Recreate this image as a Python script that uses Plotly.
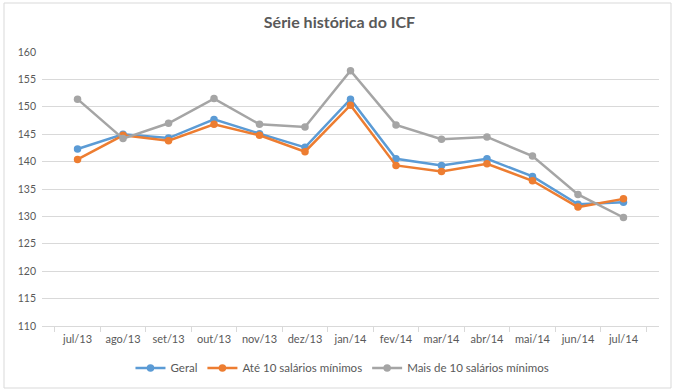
import plotly.graph_objects as go

categories = ["jul/13", "ago/13", "set/13", "out/13", "nov/13", "dez/13", "jan/14",
              "fev/14", "mar/14", "abr/14", "mai/14", "jun/14", "jul/14"]
geral = [142.3, 145.0, 144.3, 147.7, 145.1, 142.6, 151.4, 140.5, 139.3, 140.5, 137.3, 132.2, 132.6]
ate10 = [140.4, 144.8, 143.8, 146.8, 144.8, 141.8, 150.3, 139.3, 138.2, 139.6, 136.5, 131.7, 133.2]
mais10 = [151.4, 144.2, 147.0, 151.5, 146.8, 146.3, 156.6, 146.7, 144.1, 144.5, 141.0, 134.0, 129.8]
series_names = ["Geral", "Até 10 salários mínimos", "Mais de 10 salários mínimos"]
colors = ["#5B9BD5", "#ED7D31", "#A5A5A5"]

FONT = "Lato, Open Sans, sans-serif"

fig = go.Figure()
for name, vals, col in zip(series_names, [geral, ate10, mais10], colors):
    fig.add_trace(go.Scatter(
        x=categories, y=vals, name=name, mode="lines+markers",
        line=dict(color=col, width=2.5),
        marker=dict(color=col, size=7.5),
    ))

fig.update_layout(
    width=679, height=391,
    margin=dict(l=42, r=20, t=52, b=65, autoexpand=False),
    paper_bgcolor="white", plot_bgcolor="white",
    font=dict(family=FONT, size=11, color="#595959"),
    title=dict(text="<b>Série histórica do ICF</b>", x=0.5, xanchor="center",
               y=1 - 22 / 391, yanchor="middle",
               font=dict(family=FONT, size=16, color="#595959")),
    showlegend=True,
    legend=dict(orientation="h", x=0.487, xanchor="center", y=-0.1, yanchor="top",
                font=dict(family=FONT, size=11.5, color="#595959"),
                itemwidth=30, traceorder="normal"),
    xaxis=dict(type="category", showgrid=False, showline=True, linecolor="#D9D9D9",
               linewidth=1, ticks="outside", tickson="boundaries", ticklen=5,
               tickcolor="#D9D9D9", tickfont=dict(size=11, color="#595959"),
               ticklabelstandoff=3, automargin=False, fixedrange=True),
    yaxis=dict(range=[110, 160], dtick=5, showgrid=True, gridcolor="#D9D9D9",
               gridwidth=1, zeroline=False, showline=False,
               tickfont=dict(size=10.5, color="#595959"), ticklabelstandoff=5,
               automargin=False, fixedrange=True),
    shapes=[dict(type="rect", xref="paper", yref="paper",
                 x0=(4 - 42) / 617, x1=(671 - 42) / 617,
                 y0=(326 - 388) / 274, y1=(326 - 3) / 274,
                 line=dict(color="#D9D9D9", width=1), layer="below")],
)

fig.write_html("out.html", config={"displayModeBar": False},
               post_script="document.body.style.margin='0';document.body.style.overflow='hidden';")
